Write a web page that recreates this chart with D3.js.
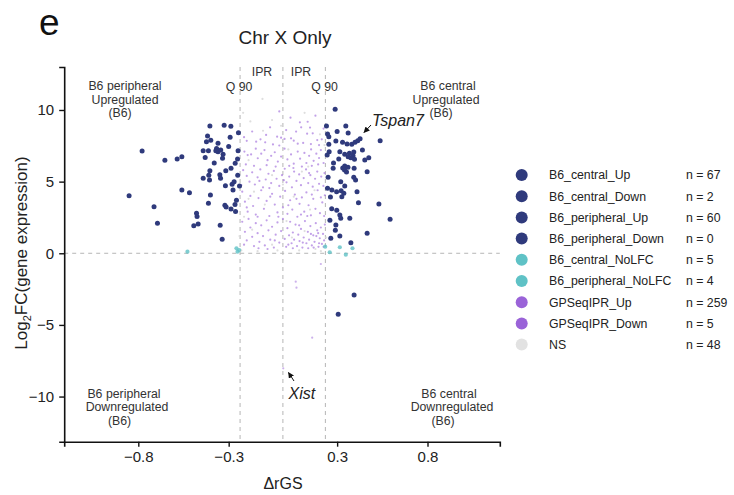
<!DOCTYPE html>
<html><head><meta charset="utf-8">
<script src="https://cdn.jsdelivr.net/npm/d3@7"></script>
<style>body{margin:0;background:#fff;font-family:"Liberation Sans",Arial,sans-serif;}</style>
</head><body><svg id="c" width="734" height="495"></svg>
<script>
// ---------- data ----------
const xTicks = [-0.8, -0.3, 0.3, 0.8];
const yTicks = [-10, -5, 0, 5, 10];
const vLines = [-0.237, 0, 0.235];
const legendLabels = ["B6_central_Up","B6_central_Down","B6_peripheral_Up","B6_peripheral_Down","B6_central_NoLFC","B6_peripheral_NoLFC","GPSeqIPR_Up","GPSeqIPR_Down","NS"];
const legendCounts = [67,2,60,0,5,4,259,5,48];

const b6PeripheralUp = [[-0.779,7.14],[-0.851,4.02],[-0.713,3.25],[-0.694,2.09],[-0.653,6.49],[-0.585,6.58],[-0.559,6.74],[-0.559,4.42],[-0.517,4.23],[-0.478,2.79],[-0.475,2.56],[-0.493,1.92],[-0.469,2.04],[-0.404,8.88],[-0.325,8.93],[-0.288,8.86],[-0.292,8.09],[-0.246,8.42],[-0.417,8.18],[-0.423,7.79],[-0.399,7.89],[-0.359,7.67],[-0.367,7.32],[-0.359,7.09],[-0.441,7.16],[-0.412,7.16],[-0.371,7.16],[-0.344,7.21],[-0.331,6.91],[-0.334,6.63],[-0.430,6.68],[-0.248,7.16],[-0.251,6.58],[-0.264,6.28],[-0.287,5.93],[-0.316,5.76],[-0.349,5.48],[-0.345,5.23],[-0.404,5.76],[-0.410,5.44],[-0.441,5.23],[-0.406,5.12],[-0.318,4.72],[-0.281,4.81],[-0.276,4.42],[-0.240,4.69],[-0.401,4.07],[-0.412,3.49],[-0.321,3.35],[-0.314,3.23],[-0.287,3.09],[-0.262,2.91],[-0.257,3.70],[-0.347,1.95],[-0.336,0.98],[-0.270,5.00],[-0.300,7.45],[-0.380,6.30],[-0.265,3.40],[-0.250,5.45]];
const b6CentralUp = [[0.289,10.05],[0.241,8.88],[0.247,8.33],[0.254,8.14],[0.293,7.84],[0.330,7.75],[0.355,7.63],[0.381,7.61],[0.399,7.75],[0.414,7.86],[0.427,8.00],[0.348,8.88],[0.361,8.39],[0.538,7.86],[0.254,7.61],[0.256,7.09],[0.315,7.09],[0.342,6.91],[0.368,6.98],[0.392,7.07],[0.309,6.58],[0.361,6.74],[0.376,6.67],[0.388,6.81],[0.396,6.56],[0.453,6.51],[0.475,6.67],[0.278,5.93],[0.331,5.95],[0.342,6.09],[0.341,5.81],[0.352,5.67],[0.394,5.93],[0.466,5.69],[0.392,5.30],[0.402,5.12],[0.247,4.54],[0.271,4.42],[0.297,4.30],[0.322,4.37],[0.337,4.19],[0.342,4.70],[0.263,3.93],[0.326,3.95],[0.418,3.53],[0.531,3.44],[0.298,3.00],[0.315,2.67],[0.320,2.44],[0.370,2.44],[0.593,2.37],[0.293,1.97],[0.466,1.40],[0.315,1.21],[0.265,1.05],[0.376,0.74],[0.250,5.30],[0.280,6.30],[0.270,3.10],[0.300,8.50],[0.440,7.20],[0.320,5.00],[0.260,2.30],[0.360,6.00],[0.290,1.60],[0.410,4.30],[0.245,6.85]];
const b6CentralDown = [[0.394,-2.91],[0.306,-4.26]];
const b6CentralNoLFC = [[0.234,0.46],[0.259,0.07],[0.315,0.42],[0.348,-0.10],[0.385,0.35]];
const b6PeripheralNoLFC = [[-0.528,0.11],[-0.257,0.35],[-0.251,0.11],[-0.242,0.22]];
const gpseqUp = [[0.042,9.46],[0.094,9.14],[0.180,9.60],[0.137,9.18],[-0.071,8.79],[0.101,8.79],[0.150,8.77],[-0.020,9.90],
[-0.032,8.14],[-0.010,8.07],[-0.124,7.95],[-0.148,7.79],[-0.098,7.74],[0.009,7.98],[0.045,8.02],[0.134,8.35],[0.165,8.37],[-0.093,8.26],[0.018,8.60],[0.073,8.49],[-0.055,7.60],[0.082,7.65],[0.060,7.86],[0.112,7.70],[0.190,7.90],[0.200,7.55],[-0.200,7.85],[-0.170,8.50],[-0.215,8.10],[0.225,8.70],[0.155,7.62],[-0.020,7.52],[0.215,7.95],
[-0.213,7.10],[-0.195,6.85],[-0.176,6.90],[-0.150,7.30],[-0.139,6.63],[-0.120,6.95],[-0.102,7.20],[-0.085,6.50],[-0.065,6.80],[-0.045,7.05],[-0.028,6.40],[-0.010,6.75],[0.009,7.30],[0.025,6.55],[0.045,6.90],[0.060,6.25],[0.082,7.10],[0.095,6.60],[0.119,7.00],[0.130,6.30],[0.145,6.80],[0.156,7.25],[0.170,6.45],[0.185,6.95],[0.200,6.65],[0.210,7.20],[0.225,6.30],[-0.205,6.20],[-0.160,6.10],[-0.090,6.15],[-0.040,6.05],[0.035,6.10],[0.105,6.05],[0.160,6.10],[0.195,6.20],
[-0.220,5.80],[-0.200,5.40],[-0.185,5.00],[-0.170,5.65],[-0.155,4.80],[-0.140,5.30],[-0.125,5.85],[-0.110,4.60],[-0.095,5.15],[-0.080,5.55],[-0.065,4.90],[-0.050,5.75],[-0.035,5.20],[-0.020,4.70],[-0.005,5.45],[0.010,5.90],[0.020,4.95],[0.035,5.35],[0.050,4.60],[0.062,5.70],[0.075,5.05],[0.090,5.50],[0.100,4.75],[0.115,5.25],[0.128,5.85],[0.140,4.90],[0.152,5.45],[0.165,4.65],[0.178,5.20],[0.190,5.70],[0.200,4.85],[0.212,5.35],[0.224,4.70],[0.230,5.60],[-0.230,4.75],[-0.075,4.55],[0.058,5.95],[0.145,5.60],[-0.130,5.05],[0.005,5.10],
[-0.225,4.30],[-0.210,3.60],[-0.195,2.90],[-0.180,4.00],[-0.165,3.30],[-0.150,2.70],[-0.135,3.85],[-0.120,4.40],[-0.105,3.10],[-0.090,3.65],[-0.075,2.60],[-0.060,4.15],[-0.045,3.40],[-0.030,2.85],[-0.015,3.95],[0.000,3.20],[0.012,4.35],[0.025,2.75],[0.040,3.70],[0.052,3.05],[0.066,4.10],[0.080,2.55],[0.092,3.45],[0.105,3.90],[0.118,2.90],[0.130,4.25],[0.142,3.35],[0.155,2.65],[0.168,3.80],[0.180,3.10],[0.192,4.40],[0.205,2.80],[0.218,3.55],[0.228,2.60],[0.232,4.05],[-0.200,3.20],[-0.140,2.55],[-0.070,3.95],[0.030,3.35],[0.100,2.70],[0.160,4.10],[0.210,3.90],[-0.025,2.55],[0.075,3.80],[0.135,2.60],
[-0.225,2.20],[-0.210,1.50],[-0.200,0.90],[-0.190,2.40],[-0.180,1.80],[-0.170,1.15],[-0.160,0.50],[-0.150,2.10],[-0.140,1.40],[-0.130,0.80],[-0.120,1.95],[-0.110,1.20],[-0.100,0.55],[-0.090,2.30],[-0.080,1.60],[-0.070,0.95],[-0.060,1.85],[-0.050,0.40],[-0.040,1.30],[-0.030,2.15],[-0.020,0.75],[-0.010,1.55],[0.000,2.40],[0.010,1.00],[0.018,0.45],[0.025,1.75],[0.034,1.25],[0.040,2.20],[0.048,0.70],[0.055,1.45],[0.062,0.95],[0.070,2.00],[0.078,0.50],[0.085,1.30],[0.092,0.85],[0.100,1.70],[0.108,0.40],[0.115,1.10],[0.122,2.25],[0.130,0.70],[0.138,1.50],[0.145,0.95],[0.152,1.90],[0.160,0.55],[0.168,1.25],[0.175,0.80],[0.182,2.10],[0.190,1.60],[0.197,0.45],[0.204,1.05],[0.210,1.80],[0.216,0.65],[0.222,1.35],[0.228,0.90],[0.232,2.00],[0.185,1.20],[0.200,0.70],[0.170,0.40],[0.140,0.35],[0.110,0.75],[0.055,0.35],[-0.045,0.90],[-0.135,0.35],[0.225,0.45],[0.195,1.40],[0.155,1.35],[0.090,1.95],[0.030,0.60],[-0.085,0.30],[-0.215,0.60]];
const gpseqDown = [[0.071,-1.98],[0.075,-2.40],[0.162,-5.89],[0.210,-0.75],[0.002,-8.03]];
const nsPoints = [[-0.113,10.77],[-0.060,9.30],[0.120,9.80],[-0.180,9.20],[0.205,8.30],[-0.110,8.55],[0.030,7.25],[-0.190,6.50],[0.140,6.05],[-0.060,5.45],[0.175,4.40],[-0.160,4.30],[0.060,3.95],[-0.100,3.40],[0.150,3.05],[-0.215,2.55],[0.020,2.25],[0.120,1.55],[-0.170,1.65],[0.050,1.10],[-0.060,0.60],[0.180,0.30],[-0.230,0.20],[0.090,0.20],[-0.140,0.15],[0.210,0.15],[-0.030,0.20],[0.240,1.10],[-0.240,1.20],[0.000,4.80],[-0.190,3.80],[0.105,5.70],[0.230,7.55],[-0.010,8.90],[-0.220,9.80]];

// ---------- layout ----------
const svg = d3.select("#c");
const x = d3.scaleLinear().domain([-1.21, 1.2]).range([64.2, 499.8]);
const y = d3.scaleLinear().domain([-13.15, 13]).range([441.7, 67]);
const C = {dark:"#2f3a7c", teal:"#5fc2c6", purple:"#9a63d8", ns:"#dedede"};

// panel label & title
svg.append("text").attr("x",39).attr("y",35).attr("font-size",37).attr("fill","#111").text("e");
svg.append("text").attr("x",285).attr("y",44).attr("text-anchor","middle").attr("font-size",19).attr("fill","#222").text("Chr X Only");

// reference lines
const g = svg.append("g");
g.selectAll("line.v").data(vLines).join("line")
  .attr("x1",d=>x(d)).attr("x2",d=>x(d)).attr("y1",y(13)).attr("y2",y(-13.15))
  .attr("stroke","#b5b5b5").attr("stroke-width",1).attr("stroke-dasharray","4,4");
g.append("line").attr("x1",x(-1.21)).attr("x2",x(1.2)).attr("y1",y(0)).attr("y2",y(0))
  .attr("stroke","#b5b5b5").attr("stroke-width",1).attr("stroke-dasharray","4,4");

// points
function pts(data, col, r, op){
  g.append("g").selectAll("circle").data(data).join("circle")
   .attr("cx",d=>x(d[0])).attr("cy",d=>y(d[1])).attr("r",r).attr("fill",col).attr("fill-opacity",op);
}
pts(nsPoints, C.ns, 1.1, 1);
pts(gpseqUp, C.purple, 1.1, 0.6);
pts(gpseqDown, C.purple, 1.1, 0.5);
pts(b6CentralNoLFC, C.teal, 2.1, 0.8);
pts(b6PeripheralNoLFC, C.teal, 2.1, 0.8);
pts(b6PeripheralUp, C.dark, 2.5, 1);
pts(b6CentralUp, C.dark, 2.5, 1);
pts(b6CentralDown, C.dark, 2.5, 1);

// axes
const xa = svg.append("g").attr("transform",`translate(0,${y(-13.15)})`)
  .call(d3.axisBottom(x).tickValues(xTicks).tickSize(5).tickPadding(5).tickFormat(d=>d3.format(".1f")(d).replace("-","\u2212")));
const ya = svg.append("g").attr("transform",`translate(${x(-1.21)},0)`)
  .call(d3.axisLeft(y).tickValues(yTicks).tickSize(5).tickPadding(5).tickFormat(d=>String(d).replace("-","\u2212")));
[xa,ya].forEach(a=>{
  a.select(".domain").attr("stroke","#111").attr("stroke-width",1.6);
  a.selectAll(".tick line").attr("stroke","#111").attr("stroke-width",1.4);
  a.selectAll(".tick text").attr("font-size",15).attr("fill","#222").attr("font-family","Liberation Sans, Arial, sans-serif");
});
// axis titles
svg.append("text").attr("x",283).attr("y",489).attr("text-anchor","middle").attr("font-size",16).attr("fill","#222").text("\u0394rGS");
const yl = svg.append("text").attr("transform","translate(27,253) rotate(-90)").attr("text-anchor","middle").attr("font-size",17).attr("fill","#222");
yl.append("tspan").text("Log");
yl.append("tspan").attr("font-size",11).attr("dy",4).text("2");
yl.append("tspan").attr("dy",-4).text("FC(gene expression)");

// quadrant annotations
const ann = [
 ["B6 peripheral",125,86],["Upregulated",125,99.5],["(B6)",120,113],
 ["B6 central",448,86],["Upregulated",446,99.5],["(B6)",441,113],
 ["B6 peripheral",124,394],["Downregulated",127,407],["(B6)",119.5,420.5],
 ["B6 central",449,393.5],["Downregulated",452,407],["(B6)",443,420.5],
 ["IPR",262,72],["Q 90",239,87],["IPR",301,72],["Q 90",324.5,87]
];
svg.append("g").selectAll("text").data(ann).join("text")
  .attr("x",d=>d[1]).attr("y",d=>d[2]).attr("dy","0.35em").attr("text-anchor","middle")
  .attr("font-size",12.3).attr("fill","#333").text(d=>d[0]);

// gene labels with arrows
const defs = svg.append("defs");
defs.append("marker").attr("id","ah").attr("viewBox","0 0 10 10").attr("refX",9).attr("refY",5)
  .attr("markerWidth",6).attr("markerHeight",6).attr("orient","auto")
  .append("path").attr("d","M0,0 L10,5 L0,10 z").attr("fill","#111");
svg.append("line").attr("x1",371).attr("y1",125).attr("x2",364).attr("y2",132.5)
  .attr("stroke","#111").attr("stroke-width",1).attr("marker-end","url(#ah)");
svg.append("text").attr("x",372).attr("y",126).attr("font-size",16).attr("font-style","italic").attr("fill","#222").text("Tspan7");
svg.append("line").attr("x1",294).attr("y1",381).attr("x2",288.5).attr("y2",372.5)
  .attr("stroke","#111").attr("stroke-width",1).attr("marker-end","url(#ah)");
svg.append("text").attr("x",288.5).attr("y",399).attr("font-size",16).attr("font-style","italic").attr("fill","#222").text("Xist");

// legend
const legCols = [C.dark,C.dark,C.dark,C.dark,C.teal,C.teal,C.purple,C.purple,"#e2e2e2"];
const lg = svg.append("g").selectAll("g").data(legendLabels).join("g")
  .attr("transform",(d,i)=>`translate(0,${175+i*21.2})`);
lg.append("circle").attr("cx",521.7).attr("cy",0).attr("r",6).attr("fill",(d,i)=>legCols[i]);
lg.append("text").attr("x",549).attr("dy","0.35em").attr("font-size",12.3).attr("fill","#222").text(d=>d);
lg.append("text").attr("x",686).attr("dy","0.35em").attr("font-size",12.3).attr("fill","#222").text((d,i)=>"n = "+legendCounts[i]);
</script></body></html>
